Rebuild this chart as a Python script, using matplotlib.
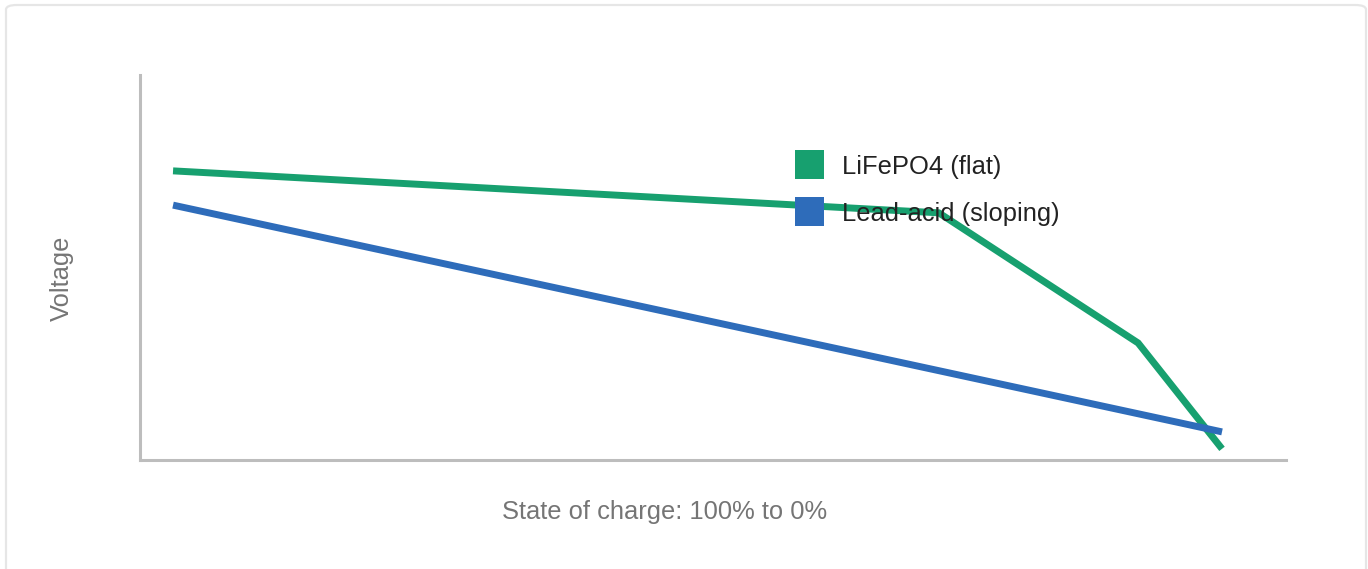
import matplotlib
matplotlib.use("Agg")
import matplotlib.pyplot as plt
from matplotlib.patches import Rectangle, FancyBboxPatch

plt.rcParams['font.family'] = ['Liberation Sans', 'DejaVu Sans']

# state of charge (%) and relative voltage
soc_lfp = [100, 27, 8, 0]
volt_lfp = [75.1, 64.2, 30.4, 2.9]
soc_lead = [100, 0]
volt_lead = [66.2, 7.3]

labels = ['LiFePO4 (flat)', 'Lead-acid (sloping)']
colors = ['#17a06f', '#2e6cba']

W, H = 1368, 569
fig = plt.figure(figsize=(W / 100, H / 100), dpi=100)

# light rounded frame round the whole card
card = FancyBboxPatch((6 / W, -0.05), 1360 / W, 1 - 5 / H + 0.05,
                      boxstyle="round,pad=0,rounding_size=0.008",
                      transform=fig.transFigure, facecolor='none',
                      edgecolor='#e6e6e6', linewidth=1.6, zorder=-1)
fig.patches.append(card)

ax = fig.add_axes([140 / W, (H - 460) / H, 1146 / W, 385 / H])
ax.patch.set_alpha(0)

ax.plot(soc_lfp, volt_lfp, color=colors[0], lw=5, solid_joinstyle='miter',
        solid_capstyle='butt', zorder=2)
ax.plot(soc_lead, volt_lead, color=colors[1], lw=5, solid_capstyle='butt', zorder=3)

ax.set_xlim(103.15, -6.1)
ax.set_ylim(0, 100)
ax.set_xticks([])
ax.set_yticks([])
for s in ['top', 'right']:
    ax.spines[s].set_visible(False)
for s in ['left', 'bottom']:
    ax.spines[s].set_color('#bdbdbd')
    ax.spines[s].set_linewidth(2.2)

# legend: coloured squares with labels, drawn on top of the lines
for i, (lab, c) in enumerate(zip(labels, colors)):
    top = 150 + 47 * i
    fig.patches.append(Rectangle((795 / W, 1 - (top + 29) / H), 29 / W, 29 / H,
                                 transform=fig.transFigure, facecolor=c,
                                 edgecolor='none', zorder=5))
    fig.text(842 / W, 1 - (top + 17) / H, lab, ha='left', va='center',
             fontsize=18.4, color='#222222', zorder=6)

fig.text(665 / W, 1 - 512 / H, 'State of charge: 100% to 0%', ha='center',
         va='center', fontsize=18.4, color='#757575')
fig.text(62 / W, 1 - 278 / H, 'Voltage', ha='center', va='center',
         rotation=90, fontsize=18.4, color='#757575')

fig.savefig('out.png', dpi=100)
